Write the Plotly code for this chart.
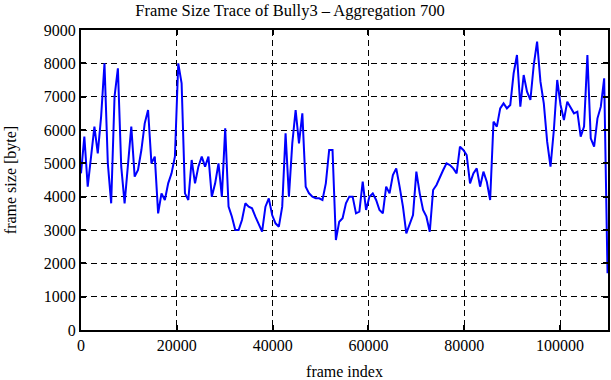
import plotly.graph_objects as go

aggregation = 700
frame_size = [
    4700, 5800, 4300, 5300, 6100, 5300, 6400, 8000, 5000, 3800,
    7000, 7850, 4900, 3800, 4900, 6100, 4600, 4800, 5400, 6200,
    6600, 5000, 5200, 3500, 4100, 3900, 4400,
    4700, 5200, 8000, 7400, 4100, 3900, 5100, 4400, 4900, 5200,
    4900, 5200, 4000, 4400, 5000, 4000, 6050, 3700, 3400, 3000,
    3000, 3300, 3800, 3700, 3650, 3400, 3150,
    2950, 3700, 3950, 3450, 3200, 3100, 3700, 5900, 4000, 5600,
    6600, 5600, 6500, 4300, 4100, 4000, 3950, 3950, 3900, 4400,
    5400, 5400, 2700, 3250, 3350, 3800, 4000,
    4000, 3500, 3550, 4450, 3600, 4000, 4100, 3900, 3600, 3500,
    4300, 4100, 4650, 4850, 4300, 3700, 2900, 3200, 3450, 4750,
    4100, 3600, 3400, 2950, 4200, 4350, 4600,
    4800, 5000, 4950, 4850, 4700, 5500, 5400, 5250, 4400, 4700,
    4850, 4300, 4750, 4450, 3900, 6250, 6100, 6650, 6800, 6650,
    6750, 7700, 8250, 6700, 7650, 7150, 6900,
    7950, 8650, 7450, 6800, 5650, 4900, 6000, 7500, 6750, 6300,
    6850, 6650, 6500, 6550, 5800, 6100, 8250, 5750, 5500, 6350,
    6700, 7550, 1700,
]
frame_index = [i * aggregation for i in range(len(frame_size))]

x_ticks = [0, 20000, 40000, 60000, 80000, 100000]
y_ticks = [0, 1000, 2000, 3000, 4000, 5000, 6000, 7000, 8000, 9000]

font_family = "Liberation Serif"

fig = go.Figure()
fig.add_trace(go.Scatter(
    x=frame_index, y=frame_size, mode="lines",
    line=dict(color="#0000ff", width=2),
    showlegend=False,
))

axis_common = dict(
    showline=True, linecolor="black", linewidth=2, mirror="ticks",
    ticks="inside", ticklen=5, tickwidth=1.5, tickcolor="black",
    showgrid=True, gridcolor="black", gridwidth=1, griddash="6px,4px",
    zeroline=False, automargin=False,
    tickfont=dict(family=font_family, size=16, color="black"),
    title_font=dict(family=font_family, size=16, color="black"),
)

fig.update_layout(
    width=611, height=380,
    margin=dict(l=81, r=3, t=30, b=50),
    paper_bgcolor="white", plot_bgcolor="white",
    title=dict(text="Frame Size Trace of Bully3 \u2013 Aggregation 700",
               xref="container", yref="container",
               x=0.4746, xanchor="center", y=0.972, yanchor="middle",
               font=dict(family=font_family, size=16.5, color="black")),
    xaxis=dict(range=[0, 110000], tickvals=x_ticks,
               ticktext=[str(v) for v in x_ticks],
               title=dict(text="frame index", standoff=14), **axis_common),
    yaxis=dict(range=[0, 9000], tickvals=y_ticks,
               ticktext=[str(v) for v in y_ticks],
               title=dict(text="frame size [byte]", standoff=23), **axis_common),
)

fig.write_html(
    "out.html",
    config={"displayModeBar": False},
    post_script="document.body.style.margin='0';document.body.style.overflow='hidden';",
)
